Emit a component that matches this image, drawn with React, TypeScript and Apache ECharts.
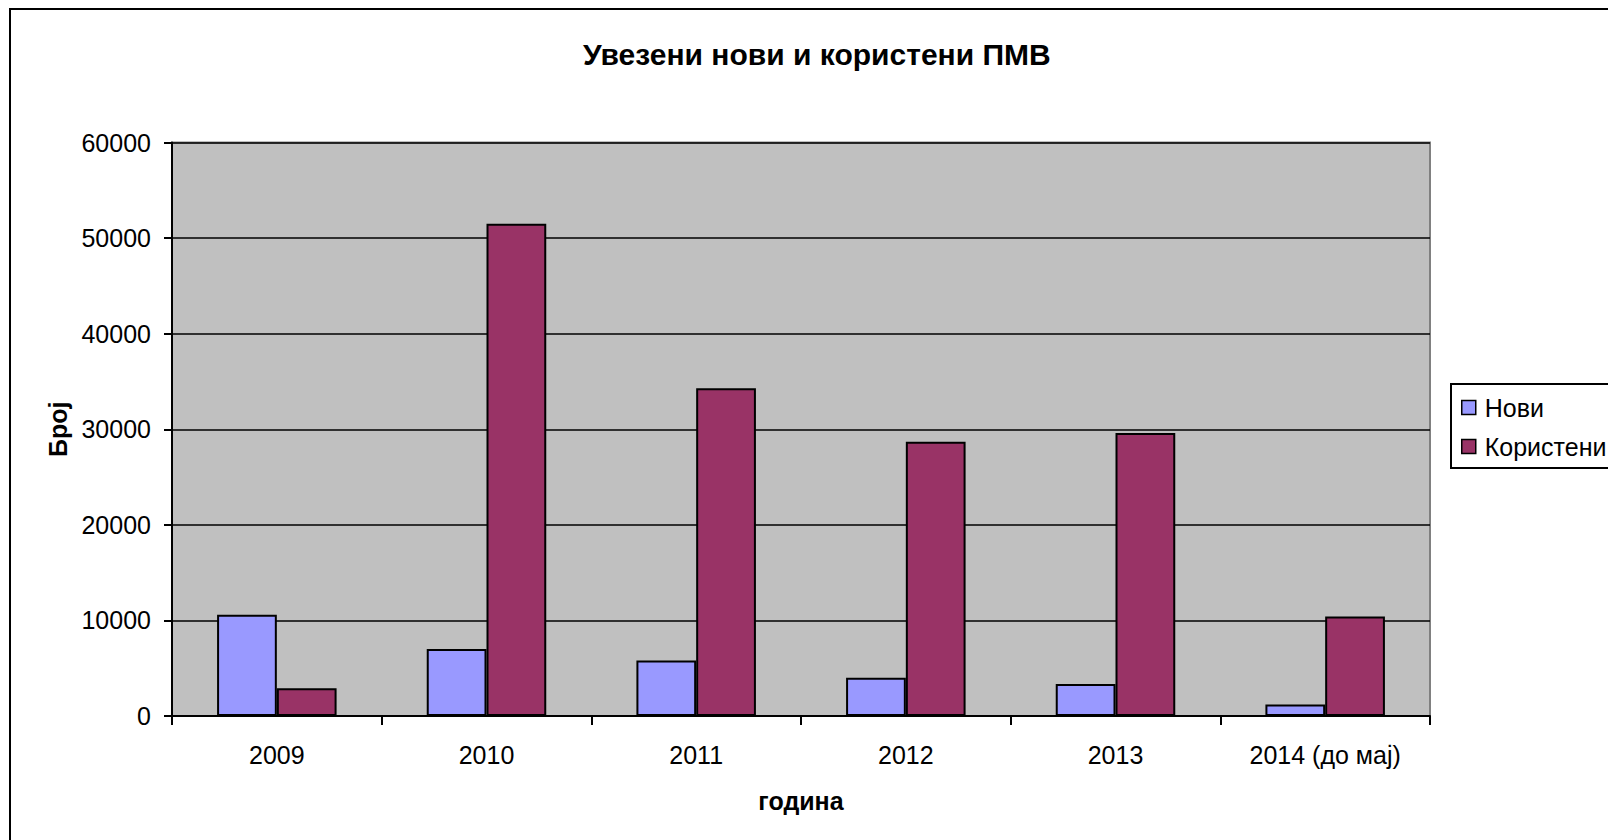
import React, { useEffect, useRef } from "react";
import * as echarts from "echarts";

const categories = ["2009", "2010", "2011", "2012", "2013", "2014 (до мај)"];
const noviValues = [10600, 7000, 5800, 4000, 3350, 1200];
const koristeniValues = [2900, 51500, 34300, 28700, 29600, 10400];
const seriesNames = ["Нови", "Користени"];
const titleText = "Увезени нови и користени ПМВ";
const yAxisName = "Број";
const xAxisName = "година";

const FONT = "'Liberation Sans', Arial, sans-serif";

export default function App() {
  const ref = useRef<HTMLDivElement>(null);

  useEffect(() => {
    document.body.style.margin = "0";
    if (!ref.current) return;
    const chart = echarts.init(ref.current, null, { renderer: "svg" });
    chart.setOption({
      animation: false,
      backgroundColor: "#ffffff",
      textStyle: { fontFamily: FONT, color: "#000" },
      title: {
        text: titleText,
        left: 578,
        top: 34,
        textStyle: { fontFamily: FONT, fontSize: 30, fontWeight: "bold", color: "#000" },
      },
      legend: {
        orient: "vertical",
        left: 1451,
        top: 384,
        padding: [11, 12, 9, 10],
        itemGap: 14,
        itemWidth: 14,
        itemHeight: 14,
        borderColor: "#000",
        borderWidth: 2,
        icon: "rect",
        itemStyle: { borderColor: "#000", borderWidth: 1.5 },
        textStyle: { fontFamily: FONT, fontSize: 25, color: "#000", padding: [0, 0, 0, 4] },
        data: seriesNames,
      },
      graphic: [
        {
          type: "rect",
          silent: true,
          z: -10,
          shape: { x: 10, y: 9, width: 1700, height: 900 },
          style: { fill: "none", stroke: "#000", lineWidth: 2 },
        },
      ],
      grid: {
        left: 172,
        top: 142.5,
        width: 1258,
        height: 573.5,
        show: true,
        backgroundColor: "#c0c0c0",
        borderColor: "#808080",
        borderWidth: 2,
        containLabel: false,
      },
      xAxis: {
        type: "category",
        data: categories,
        name: xAxisName,
        nameLocation: "middle",
        nameGap: 72,
        nameTextStyle: { fontFamily: FONT, fontSize: 25, fontWeight: "bold", color: "#000" },
        axisLine: { lineStyle: { color: "#000", width: 2 } },
        axisTick: { show: true, length: 9, lineStyle: { color: "#000", width: 2 } },
        axisLabel: { fontFamily: FONT, fontSize: 25, color: "#000", margin: 26, interval: 0 },
      },
      yAxis: {
        type: "value",
        min: 0,
        max: 60000,
        interval: 10000,
        name: yAxisName,
        nameLocation: "middle",
        nameGap: 101,
        nameTextStyle: { fontFamily: FONT, fontSize: 25, fontWeight: "bold", color: "#000" },
        axisLine: { show: true, lineStyle: { color: "#000", width: 2 } },
        axisTick: { show: true, length: 8, lineStyle: { color: "#000", width: 2 } },
        axisLabel: {
          fontFamily: FONT,
          fontSize: 25,
          color: "#000",
          margin: 21,
          formatter: (v: number) => String(v),
        },
        splitLine: { show: true, lineStyle: { color: "#000", width: 1.7 } },
      },
      series: [
        {
          name: seriesNames[0],
          type: "bar",
          data: noviValues,
          barGap: "0%",
          barCategoryGap: "43%",
          itemStyle: { color: "#9999ff", borderColor: "#000", borderWidth: 2 },
        },
        {
          name: seriesNames[1],
          type: "bar",
          data: koristeniValues,
          barGap: "0%",
          barCategoryGap: "43%",
          itemStyle: { color: "#993366", borderColor: "#000", borderWidth: 2 },
        },
      ],
    });
    return () => chart.dispose();
  }, []);

  return <div ref={ref} style={{ width: 1608, height: 840 }} />;
}
